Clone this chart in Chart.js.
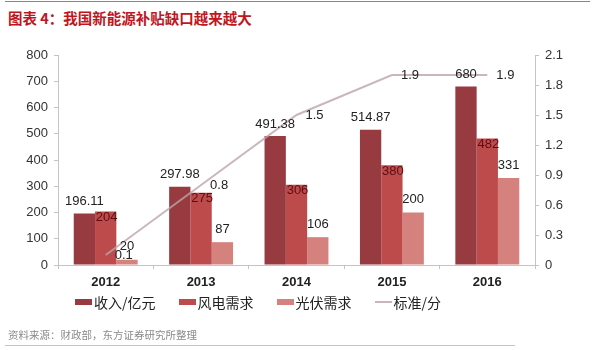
<!DOCTYPE html>
<html>
<head>
<meta charset="utf-8">
<script src="https://cdn.jsdelivr.net/npm/chart.js@4"></script>
<style>
  html, body { margin: 0; padding: 0; background: #fff; }
  #wrap { position: relative; width: 599px; height: 350px; overflow: hidden;
          font-family: "Liberation Sans", "Noto Sans CJK SC", sans-serif; }
  #chartBox { position: absolute; left: 0; top: 0; width: 599px; height: 350px; }
  .rule-top { position: absolute; left: 5px; top: 1px; width: 585px; height: 1px; background: #b9707c; }
  .rule-bot { position: absolute; left: 5px; top: 345px; width: 510px; height: 1px; background: #c4c4c4; }
  .title { position: absolute; left: 8px; top: 7px; font: bold 14.5px "Noto Sans CJK SC", sans-serif;
           color: #c0161e; white-space: nowrap; }
  .source { position: absolute; left: 8px; top: 327px; font: 10.5px "Noto Sans CJK SC", sans-serif;
            color: #8a8a8a; white-space: nowrap; }
  #legend { position: absolute; left: 75px; top: 292px; display: flex; gap: 23px;
            font: 14px "Noto Sans CJK SC", sans-serif; color: #222; }
  #legend .item { display: flex; align-items: center; white-space: nowrap; }
  #legend .mk { width: 17px; height: 6px; margin-right: 2px; }
  #legend .mk.line { height: 2px; }
</style>
</head>
<body>
<div id="wrap">
  <div class="rule-top"></div>
  <div class="title">图表 4：我国新能源补贴缺口越来越大</div>
  <div id="chartBox"><canvas id="c"></canvas></div>
  <div id="legend"></div>
  <div class="source">资料来源：财政部，东方证券研究所整理</div>
  <div class="rule-bot"></div>
</div>
<script>
// --- dati ---
const years   = ["2012", "2013", "2014", "2015", "2016"];
const revenue = [196.11, 297.98, 491.38, 514.87, 680];  // 收入/亿元
const wind    = [204, 275, 306, 380, 482];              // 风电需求
const solar   = [20, 87, 106, 200, 331];                // 光伏需求
const tariff  = [0.1, 0.8, 1.5, 1.9, 1.9];              // 标准/分

const LABEL_FONT = '13px "Liberation Sans", Arial, sans-serif';

// etichette valori disegnate a mano (niente plugin datalabels)
const valueLabels = {
  id: "valueLabels",
  afterDatasetsDraw(chart){
    const ctx = chart.ctx;
    ctx.save();
    ctx.font = LABEL_FONT;
    chart.data.datasets.forEach((ds, i) => {
      const meta = chart.getDatasetMeta(i);
      meta.data.forEach((el, j) => {
        const txt = String(ds.data[j]);
        if (ds.type === "line") {
          ctx.fillStyle = "#222";
          ctx.textAlign = "left"; ctx.textBaseline = "middle";
          ctx.fillText(txt, el.x + 9, el.y);
        } else if (i === 1) {
          // 风电: dentro la barra, in alto
          ctx.fillStyle = "#5e0e12";
          ctx.textAlign = "center"; ctx.textBaseline = "middle";
          ctx.fillText(txt, el.x + 1, el.y + 6);
        } else {
          ctx.fillStyle = "#222";
          ctx.textAlign = "center"; ctx.textBaseline = "middle";
          ctx.fillText(txt, el.x, el.y - (i === 0 ? 12 : 13));
        }
      });
    });
    ctx.restore();
  }
};

const axisColor = "#c4c4c4";

const chart = new Chart(document.getElementById("c"), {
  type: "bar",
  data: {
    labels: years,
    datasets: [
      { label: "收入/亿元", data: revenue, backgroundColor: "#983b40", yAxisID: "y" },
      { label: "风电需求", data: wind, backgroundColor: "#bd4b4c", yAxisID: "y" },
      { label: "光伏需求", data: solar, backgroundColor: "#d5827f", yAxisID: "y" },
      { type: "line", label: "标准/分", data: tariff, yAxisID: "y1",
        borderColor: "rgba(188,165,170,0.8)", borderWidth: 2, pointRadius: 0,
        tension: 0, fill: false, order: -1 }
    ]
  },
  options: {
    responsive: true, maintainAspectRatio: false, animation: false,
    datasets: { bar: { categoryPercentage: 0.67, barPercentage: 1.0 } },
    layout: { padding: { top: 55, bottom: 55, left: 0, right: 0 } },
    plugins: { legend: { display: false }, tooltip: { enabled: false } },
    scales: {
      x: {
        grid: { display: true, drawOnChartArea: false, offset: true, tickLength: 4, color: axisColor },
        border: { color: axisColor },
        ticks: { color: "#222", padding: 6, font: { size: 13, weight: "bold", family: "Liberation Sans" } },
        afterFit: (s) => { s.height = 30; }
      },
      y: {
        min: 0, max: 800,
        grid: { drawOnChartArea: false, tickLength: 4, color: axisColor },
        border: { color: axisColor },
        ticks: { stepSize: 100, color: "#333", padding: 6, font: { size: 13, family: "Liberation Sans" } },
        afterFit: (s) => { s.width = 58; }
      },
      y1: {
        position: "right", min: 0, max: 2.1,
        grid: { drawOnChartArea: false, tickLength: 4, color: axisColor },
        border: { color: axisColor },
        ticks: { stepSize: 0.3, color: "#333", padding: 6, font: { size: 13, family: "Liberation Sans" },
                 callback: (v) => String(Math.round(v * 10) / 10) },
        afterFit: (s) => { s.width = 64; }
      }
    }
  },
  plugins: [valueLabels]
});

// legenda HTML, costruita dai dataset
const legendEl = document.getElementById("legend");
chart.data.datasets.forEach(ds => {
  const isLine = ds.type === "line";
  legendEl.insertAdjacentHTML("beforeend",
    '<div class="item"><span class="mk' + (isLine ? " line" : "") + '" style="background:' +
    (isLine ? "#c9b6ba" : ds.backgroundColor) + '"></span>' + ds.label + '</div>');
});
</script>
</body>
</html>
